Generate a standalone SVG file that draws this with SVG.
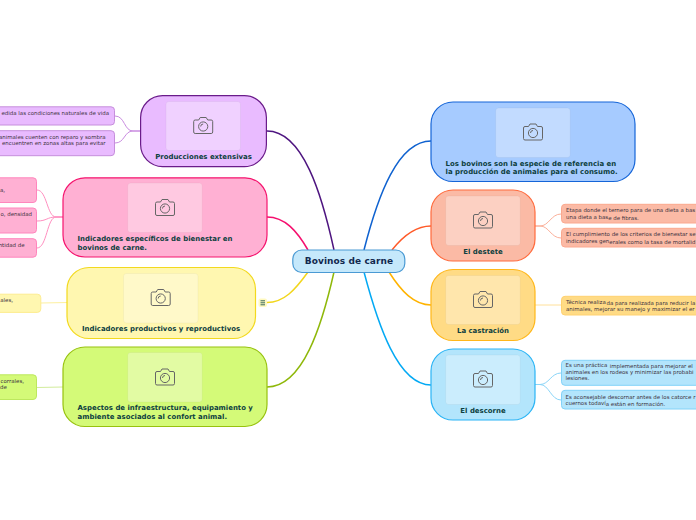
<svg xmlns="http://www.w3.org/2000/svg" xmlns:xlink="http://www.w3.org/1999/xlink" width="696" height="520" viewBox="0 0 696 520">
<style>
text{font-family:"DejaVu Sans","Liberation Sans",sans-serif}
.t{font-size:6.95px;font-weight:700;fill:#0d4040}
.m{text-anchor:middle}
.e{text-anchor:end}
.l{font-size:5.45px;fill:#3d3340}
.c{fill:none;stroke-width:1.5}
.s{fill:none;stroke-width:1}
.img{fill:#fff;fill-opacity:.32;stroke:#000;stroke-opacity:.03}
.n{stroke-width:1.2}
.f{stroke-width:1}
</style>
<defs>
<g id="cam" fill="none" stroke="#666" stroke-width="1">
<path d="M-8 -6H-4.500L-3 -8.500H3L4.500 -6H8Q9.500 -6 9.500 -4.500V6Q9.500 7.500 8 7.500H-8Q-9.500 7.500 -9.500 6V-4.500Q-9.500 -6 -8 -6Z"/>
<circle cx="0" cy="0.500" r="4.600"/>
<path d="M-2.500 0.500A2.500 2.500 0 0 1 0 -2"/>
</g>
</defs>
<rect width="696" height="520" fill="#fff"/>
<g id="connectors">
<path class="c" stroke="#4e1580" d="M334 250C322 195 303 131 267 131"/>
<path class="c" stroke="#f50f6e" d="M308 250C297 231 285 217 267 217"/>
<path class="c" stroke="#f2d61c" d="M308 272C295 290 284 302.500 267 302.500"/>
<path class="c" stroke="#8fb80a" d="M334 272C322 325 303 387 267 387"/>
<path class="c" stroke="#0f62d0" d="M364 250C378 195 398 141 431 141"/>
<path class="c" stroke="#ff5a28" d="M392 250C403 236 416 226 431 226"/>
<path class="c" stroke="#ffb300" d="M389 272C401 291 414 305 431 305"/>
<path class="c" stroke="#03a9f4" d="M364 272C378 325 398 385 431 385"/>
<path class="s" stroke="#c98be0" d="M140 131H133C124 131 125 116 115 116"/>
<path class="s" stroke="#c98be0" d="M140 131H133C124 131 125 143 115 143"/>
<path class="s" stroke="#ff8fc0" d="M63 217H56C47 217 47 190 37 190"/>
<path class="s" stroke="#ff8fc0" d="M63 217H56C47 217 47 221 37 221"/>
<path class="s" stroke="#ff8fc0" d="M63 217H56C47 217 47 248 37 248"/>
<path class="s" stroke="#fdf0a0" d="M67 302.500L41 303"/>
<path class="s" stroke="#d2ec9c" d="M63 387L37 387.500"/>
<path class="s" stroke="#fbb09a" d="M535 226H540C549 226 551 214 561 214"/>
<path class="s" stroke="#fbb09a" d="M535 226H540C549 226 551 238 561 238"/>
<path class="s" stroke="#ffe09a" d="M535 305H561"/>
<path class="s" stroke="#8bd5f8" d="M535 384.500H540C549 384.500 551 373 561 373"/>
<path class="s" stroke="#8bd5f8" d="M535 384.500H540C549 384.500 551 400 561 400"/>
</g>

<g id="center">
<rect class="n" x="292.800" y="250" width="112" height="22.500" rx="9" fill="#c5e8fb" stroke="#4a9ad4"/>
<text x="349" y="263.800" class="m" style="font-size:9px;font-weight:700;fill:#12284f;letter-spacing:.08px">Bovinos de carne</text>
</g>

<g id="producciones">
<rect class="n" x="140.600" y="95.600" width="125.800" height="71" rx="22" fill="#e9bbff" stroke="#6a1b8a"/>
<rect class="img" x="166" y="101.500" width="74.500" height="49" rx="3"/>
<use xlink:href="#cam" href="#cam" x="203.200" y="126"/>
<text class="t m" x="203.500" y="158.500">Producciones extensivas</text>
</g>
<g id="indicadores-bienestar">
<rect class="n" x="63" y="177.800" width="204" height="79.200" rx="22" fill="#ffb0d3" stroke="#f5146e"/>
<rect class="img" x="127.700" y="183" width="74.500" height="49.500" rx="3"/>
<use xlink:href="#cam" href="#cam" x="165" y="208"/>
<text class="t" x="77.500" y="240.800">Indicadores específicos de bienestar en</text>
<text class="t" x="77.500" y="249.700">bovinos de carne.</text>
</g>
<g id="indicadores-productivos">
<rect class="n" x="67" y="267.500" width="188.500" height="71" rx="22" fill="#fff7b0" stroke="#f2d91e"/>
<rect class="img" x="123.500" y="273.500" width="74.500" height="49.500" rx="3"/>
<use xlink:href="#cam" href="#cam" x="160.700" y="298"/>
<text class="t m" x="161" y="331">Indicadores productivos y reproductivos</text>
</g>
<g id="indicadores-toggle">
<rect x="258.500" y="298.500" width="8.500" height="8.500" rx="2" fill="#fff9c0"/>
<path d="M260.500 300.800h4.500M260.500 302.800h4.500M260.500 304.800h4.500" stroke="#3a6a5a" stroke-width="1" fill="none"/>
</g>
<g id="aspectos">
<rect class="n" x="63" y="347" width="204" height="79.500" rx="22" fill="#d4fa78" stroke="#97c20e"/>
<rect class="img" x="127.700" y="352.500" width="74.500" height="49.500" rx="3"/>
<use xlink:href="#cam" href="#cam" x="165" y="377.500"/>
<text class="t" x="77.500" y="410.300">Aspectos de infraestructura, equipamiento y</text>
<text class="t" x="77.500" y="418.700">ambiente asociados al confort animal.</text>
</g>
<g id="bovinos-especie">
<rect class="n" x="431" y="102" width="204" height="79.500" rx="22" fill="#a6cbff" stroke="#1565d8"/>
<rect class="img" x="495.700" y="108" width="74.500" height="49.500" rx="3"/>
<use xlink:href="#cam" href="#cam" x="533" y="132.500"/>
<text class="t" x="445.500" y="165.700">Los bovinos son la especie de referencia en</text>
<text class="t" x="445.500" y="173.700">la producción de animales para el consum<tspan dy=".7">o.</tspan></text>
</g>
<g id="destete">
<rect class="n" x="431" y="190" width="104" height="71" rx="22" fill="#fbbaa5" stroke="#ff6a3c"/>
<rect class="img" x="445.700" y="196" width="74.500" height="49.500" rx="3"/>
<use xlink:href="#cam" href="#cam" x="483" y="220.500"/>
<text class="t m" x="483" y="253.700">El destete</text>
</g>
<g id="castracion">
<rect class="n" x="431" y="269.500" width="104" height="71" rx="22" fill="#ffdb85" stroke="#ffb71a"/>
<rect class="img" x="445.700" y="275.500" width="74.500" height="49" rx="3"/>
<use xlink:href="#cam" href="#cam" x="483" y="300"/>
<text class="t m" x="483" y="332.700">La castración</text>
</g>
<g id="descorne">
<rect class="n" x="431" y="349" width="104" height="71" rx="22" fill="#b3e5fc" stroke="#2ab4f5"/>
<rect class="img" x="445.700" y="355" width="74.500" height="49.500" rx="3"/>
<use xlink:href="#cam" href="#cam" x="483" y="379.500"/>
<text class="t m" x="483" y="412.700">El descorne</text>
</g>

<g id="leaf-p1"><rect class="f" x="-8" y="106.800" width="122.500" height="18.200" rx="3.500" fill="#e9bbff" stroke="#c68fdc"/><text class="l e" x="109" y="114.700">edida las condiciones naturales de vida</text></g>
<g id="leaf-p2"><rect class="f" x="-8" y="130.700" width="122.500" height="25" rx="3.500" fill="#e9bbff" stroke="#c68fdc"/><text class="l e" x="105.500" y="139">animales cuenten con reparo y sombra</text><text class="l e" x="105.500" y="144.900">encuentren en zonas altas para evitar</text></g>
<g id="leaf-r1"><rect class="f" x="-8" y="177.800" width="44.500" height="24.700" rx="3.500" fill="#ffb0d3" stroke="#ff86bd"/><text class="l e" x="5" y="191.700">a,</text></g>
<g id="leaf-r2"><rect class="f" x="-8" y="208" width="44.500" height="25" rx="3.500" fill="#ffb0d3" stroke="#ff86bd"/><text class="l e" x="32" y="215.700">o, densidad</text></g>
<g id="leaf-r3"><rect class="f" x="-8" y="238.700" width="44.500" height="18.500" rx="3.500" fill="#ffb0d3" stroke="#ff86bd"/><text class="l e" x="24.500" y="246.700">ntidad de</text></g>
<g id="leaf-y1"><rect class="f" x="-8" y="294.200" width="48.800" height="18.200" rx="3.500" fill="#fff7b0" stroke="#fdec90"/><text class="l e" x="13" y="301.700">ales,</text></g>
<g id="leaf-g1"><rect class="f" x="-8" y="374.800" width="44.500" height="24.700" rx="3.500" fill="#d4fa78" stroke="#bde85e"/><text class="l e" x="24" y="382.700">corrales,</text><text class="l" x="0" y="388.700">de</text></g>
<g id="leaf-o1"><rect class="f" x="561.500" y="204.300" width="150" height="18.700" rx="3.500" fill="#fbbaa5" stroke="#fba88e"/><text class="l" x="566" y="212.300">Etapa donde el ternero para de una dieta a bas</text><text class="l" x="566" y="219">una dieta a bas<tspan dy=".7">e de fibras.</tspan></text></g>
<g id="leaf-o2"><rect class="f" x="561.500" y="228.300" width="150" height="18.700" rx="3.500" fill="#fbbaa5" stroke="#fba88e"/><text class="l" x="566" y="236.300">El cumplimiento de los criterios de bienestar se</text><text class="l" x="566" y="243">indicadores gen<tspan dy=".7">erales como la tasa de mortalid</tspan></text></g>
<g id="leaf-a1"><rect class="f" x="561.500" y="296.300" width="150" height="18.700" rx="3.500" fill="#ffdb85" stroke="#ffd170"/><text class="l" x="566" y="304">Técnica realiza<tspan x="606.500" dy=".7">da para realizada para reducir la</tspan></text><text class="l" x="566" y="310.700">animales, mejorar su manejo y maximizar el er</text></g>
<g id="leaf-b1"><rect class="f" x="561.500" y="360.300" width="150" height="25" rx="3.500" fill="#b3e5fc" stroke="#82d2f8"/><text class="l" x="565.500" y="367.300">Es una práctica<tspan x="609.700" dy=".8">implementada para mejorar el</tspan></text><text class="l" x="565.500" y="374.300">animales en los rodeos y minimizar las probabi</text><text class="l" x="565.500" y="380.300">lesiones.</text></g>
<g id="leaf-b2"><rect class="f" x="561.500" y="390.300" width="150" height="18.700" rx="3.500" fill="#b3e5fc" stroke="#82d2f8"/><text class="l" x="565.500" y="398.700">Es aconsejable descornar antes de los catorce r</text><text class="l" x="565.500" y="405.300">cuernos todaví<tspan dy=".7">a están en formación.</tspan></text></g>
</svg>
